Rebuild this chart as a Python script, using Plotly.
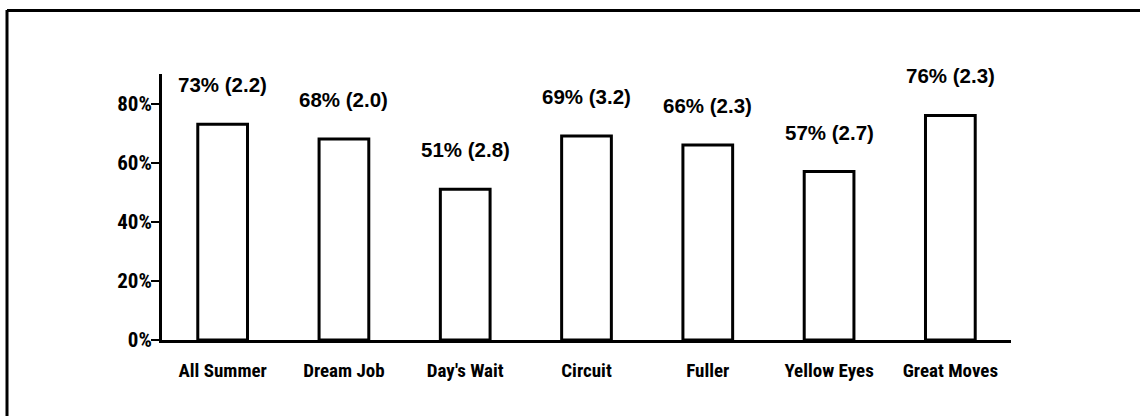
import plotly.graph_objects as go

categories = ["All Summer", "Dream Job", "Day's Wait", "Circuit", "Fuller", "Yellow Eyes", "Great Moves"]
percent = [73, 68, 51, 69, 66, 57, 76]
ratings = [2.2, 2.0, 2.8, 3.2, 2.3, 2.7, 2.3]
y_ticks = [0, 20, 40, 60, 80]
y_tick_labels = ["0%", "20%", "40%", "60%", "80%"]

W, H = 1140, 416
L, R, T, B = 162, 129, 74, 76
pw, ph = W - L - R, H - T - B

narrow = "Roboto Condensed, Liberation Sans Narrow, sans-serif"
bold = "Liberation Sans, Arial, sans-serif"

fig = go.Figure()
fig.add_trace(go.Bar(
    x=categories, y=percent, width=0.41,
    marker=dict(color="white", line=dict(color="black", width=3)),
    hoverinfo="skip",
))

for c, p, r in zip(categories, percent, ratings):
    fig.add_annotation(
        x=c, y=p, text=f"<b>{p}% ({r:.1f})</b>", showarrow=False,
        yanchor="bottom", yshift=26,
        font=dict(family=bold, size=20.5, color="black"),
    )

def px_x(v):
    return (v - L) / pw

def px_y(v):
    return (H - B - v) / ph

# outer frame (top and left edges)
fig.add_shape(type="line", xref="paper", yref="paper",
              x0=px_x(7), x1=px_x(1140), y0=px_y(10.5), y1=px_y(10.5),
              line=dict(color="black", width=3))
fig.add_shape(type="line", xref="paper", yref="paper",
              x0=px_x(7), x1=px_x(7), y0=px_y(10), y1=px_y(416),
              line=dict(color="black", width=3))

fig.update_layout(
    width=W, height=H,
    margin=dict(l=L, r=R, t=T, b=B, pad=0),
    paper_bgcolor="white", plot_bgcolor="white",
    showlegend=False,
    xaxis=dict(
        range=[-0.5, len(categories) - 0.5],
        showline=True, linecolor="black", linewidth=3,
        ticks="", showgrid=False, zeroline=False,
        tickfont=dict(family=narrow, size=19, color="black"),
        ticklabelstandoff=11,
        tickprefix="<b>", ticksuffix="</b>",
        fixedrange=True,
    ),
    yaxis=dict(
        range=[0, 90],
        tickvals=y_ticks, ticktext=[f"<b>{t}</b>" for t in y_tick_labels],
        showline=True, linecolor="black", linewidth=3,
        ticks="outside", ticklen=8, tickwidth=2, tickcolor="black",
        ticklabelstandoff=-5,
        showgrid=False, zeroline=False,
        tickfont=dict(family=narrow, size=21, color="black"),
        fixedrange=True,
    ),
)

fig.write_html("out.html", config={"displayModeBar": False},
               post_script="document.body.style.margin='0';")
